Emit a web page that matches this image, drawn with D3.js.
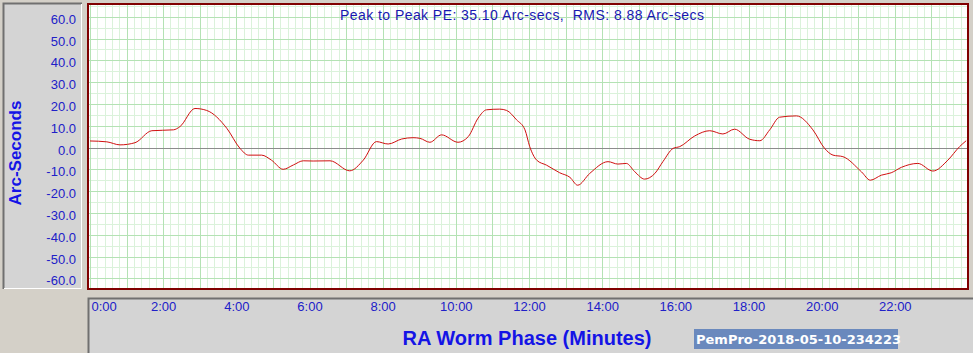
<!DOCTYPE html>
<html>
<head>
<meta charset="utf-8">
<script src="https://cdn.jsdelivr.net/npm/d3@7"></script>
<style>
    body { margin: 0; background: #d4d0c8; }
    svg { display: block; }
    .tickText { font-family: 'Liberation Sans', Arial, sans-serif; font-size: 13px; fill: #2020c8; }
    .axisTitle { font-family: 'Liberation Sans', Arial, sans-serif; font-weight: bold; fill: #1414e6; }
</style>
</head>
<body>
<svg id="pe"></svg>
<script>
// worm phase (minutes) and periodic error (arc-seconds)
const phaseMin = [0, 0.46, 0.82, 1.23, 1.69, 2.28, 2.46, 2.87, 3.19, 3.74, 4.10, 4.33, 4.69, 4.96, 5.28, 5.56,
    5.83, 6.10, 6.56, 7.10, 7.47, 7.83, 8.15, 8.52, 8.83, 9.02, 9.29, 9.61, 10.06, 10.34, 10.61, 10.84,
    11.20, 11.39, 11.66, 11.89, 12.02, 12.21, 12.48, 12.84, 13.12, 13.33, 13.66, 14.16, 14.43, 14.66, 14.89,
    15.16, 15.44, 15.66, 15.94, 16.12, 16.53, 16.94, 17.30, 17.62, 18.03, 18.31, 18.58, 18.85, 19.31, 19.76,
    20.08, 20.31, 20.58, 21.09, 21.33, 21.63, 21.90, 22.18, 22.63, 23.04, 23.45, 23.77, 23.95];
const peArcsec = [3.0, 2.6, 1.2, 2.2, 7.7, 8.1, 9.6, 17.9, 17.0, 8.8, -0.4, -3.5, -3.5, -5.8, -10.0, -8.0,
    -6.1, -6.2, -6.1, -10.7, -5.8, 2.7, 1.6, 3.9, 4.5, 4.2, 2.4, 5.8, 2.4, 5.0, 13.5, 17.3,
    17.6, 17.0, 12.7, 8.1, 0.4, -5.8, -8.1, -11.6, -13.7, -17.3, -11.9, -6.5, -7.6, -7.3, -11.1,
    -14.5, -11.9, -6.5, -0.4, 0.4, 5.3, 7.7, 6.2, 8.4, 3.8, 3.1, 8.1, 13.9, 14.5, 8.1,
    -0.4, -3.5, -4.2, -11.2, -15.0, -12.7, -11.6, -9.1, -7.3, -10.8, -5.8, 0.4, 3.1];

const yTickValues = [60, 50, 40, 30, 20, 10, 0, -10, -20, -30, -40, -50, -60];
const xTickValues = [0, 2, 4, 6, 8, 10, 12, 14, 16, 18, 20, 22];
const xTickLabels = ['0:00', '2:00', '4:00', '6:00', '8:00', '10:00', '12:00', '14:00', '16:00', '18:00', '20:00', '22:00'];

const statsText = 'Peak to Peak PE: 35.10 Arc-secs,  RMS: 8.88 Arc-secs';
const stampText = 'PemPro-2018-05-10-234223';

class PeChart {
    constructor(_config) {
        this.config = {
            parentElement: _config.parentElement,
            containerWidth: _config.containerWidth || 973,
            containerHeight: _config.containerHeight || 353,
            plot: { left: 88, top: 4, right: 968, bottom: 289 }
        };
        this.initVis();
    }

    initVis() {
        let vis = this;
        const p = vis.config.plot;

        vis.svg = d3.select(vis.config.parentElement)
            .attr('width', vis.config.containerWidth)
            .attr('height', vis.config.containerHeight);

        vis.xScale = d3.scaleLinear().domain([0, 24]).range([90, 968]);
        vis.yScale = d3.scaleLinear().domain([-60, 60]).range([278.3, 16.7]);

        // left panel (y labels)
        vis.bevel(3, 3, 79, 286);
        // bottom panel (x labels)
        vis.bevel(88, 298, 890, 60);

        vis.svg.append('clipPath').attr('id', 'plotClip')
            .append('rect')
            .attr('x', p.left).attr('y', p.top)
            .attr('width', p.right - p.left).attr('height', p.bottom - p.top);

        vis.svg.append('rect')
            .attr('x', p.left).attr('y', p.top)
            .attr('width', p.right - p.left).attr('height', p.bottom - p.top)
            .attr('fill', '#fff');

        vis.grid = vis.svg.append('g').attr('clip-path', 'url(#plotClip)');
        vis.lineG = vis.svg.append('g').attr('clip-path', 'url(#plotClip)');

        vis.svg.append('rect')
            .attr('x', p.left).attr('y', p.top)
            .attr('width', p.right - p.left).attr('height', p.bottom - p.top)
            .attr('fill', 'none')
            .attr('stroke', '#800000')
            .attr('stroke-width', 2);

        vis.svg.append('text')
            .attr('class', 'tickText')
            .attr('x', 340).attr('y', 20)
            .attr('textLength', 364)
            .attr('lengthAdjust', 'spacing')
            .style('white-space', 'pre')
            .style('font-size', '14px')
            .style('fill', '#1818b0')
            .text(statsText);

        vis.svg.append('text')
            .attr('class', 'axisTitle')
            .attr('transform', 'translate(21,153) rotate(-90)')
            .attr('text-anchor', 'middle')
            .style('font-size', '17px')
            .text('Arc-Seconds');

        vis.svg.append('text')
            .attr('class', 'axisTitle')
            .attr('x', 527).attr('y', 345)
            .attr('text-anchor', 'middle')
            .style('font-size', '20px')
            .text('RA Worm Phase (Minutes)');

        vis.svg.append('rect')
            .attr('x', 694).attr('y', 329)
            .attr('width', 204).attr('height', 20)
            .attr('fill', '#6a89bd');

        vis.svg.append('text')
            .attr('x', 696).attr('y', 344)
            .style('font-family', 'DejaVu Sans, Verdana, sans-serif')
            .style('font-weight', 'bold')
            .style('font-size', '13px')
            .attr('fill', '#fff')
            .text(stampText);

        vis.renderVis();
    }

    bevel(x, y, w, h) {
        let vis = this;
        vis.svg.append('rect')
            .attr('x', x).attr('y', y).attr('width', w).attr('height', h)
            .attr('fill', '#d4d4d4');
        vis.svg.append('path')
            .attr('d', `M${x + 0.5},${y + h} V${y + 0.5} H${x + w}`)
            .attr('fill', 'none').attr('stroke', '#707070').attr('stroke-width', 2);
        vis.svg.append('path')
            .attr('d', `M${x + 1},${y + h - 0.5} H${x + w - 0.5} V${y + 1}`)
            .attr('fill', 'none').attr('stroke', '#ffffff').attr('stroke-width', 1);
    }

    renderVis() {
        let vis = this;
        const p = vis.config.plot;

        // minor + major grid
        vis.grid.selectAll('.vMinor')
            .data(d3.range(0, 24.01, 0.2))
            .join('line')
            .attr('x1', d => Math.round(vis.xScale(d)) + 0.5)
            .attr('x2', d => Math.round(vis.xScale(d)) + 0.5)
            .attr('y1', p.top).attr('y2', p.bottom)
            .attr('stroke', '#dbf2db');
        vis.grid.selectAll('.hMinor')
            .data(d3.range(-65, 70, 5))
            .join('line')
            .attr('y1', d => Math.round(vis.yScale(d)) + 0.5)
            .attr('y2', d => Math.round(vis.yScale(d)) + 0.5)
            .attr('x1', p.left).attr('x2', p.right)
            .attr('stroke', '#dbf2db');
        vis.grid.selectAll('.vMajor')
            .data(d3.range(0, 25, 1))
            .join('line')
            .attr('x1', d => Math.round(vis.xScale(d)) + 0.5)
            .attr('x2', d => Math.round(vis.xScale(d)) + 0.5)
            .attr('y1', p.top).attr('y2', p.bottom)
            .attr('stroke', '#b4e2b4');
        vis.grid.selectAll('.hMajor')
            .data(yTickValues)
            .join('line')
            .attr('y1', d => Math.round(vis.yScale(d)) + 0.5)
            .attr('y2', d => Math.round(vis.yScale(d)) + 0.5)
            .attr('x1', p.left).attr('x2', p.right)
            .attr('stroke', d => d === 0 ? '#8c8c8c' : '#b4e2b4');

        const data = phaseMin.map((t, i) => ({ t: t, v: peArcsec[i] }));
        const line = d3.line()
            .x(d => vis.xScale(d.t))
            .y(d => vis.yScale(d.v))
            .curve(d3.curveMonotoneX);

        vis.lineG.append('path')
            .datum(data)
            .attr('d', line)
            .attr('fill', 'none')
            .attr('stroke', '#d01010')
            .attr('stroke-width', 1);

        // axes
        const yAxis = d3.axisLeft(vis.yScale)
            .tickValues(yTickValues)
            .tickSize(0)
            .tickPadding(0)
            .tickFormat(d => d.toFixed(1));
        const yAxisG = vis.svg.append('g')
            .attr('transform', 'translate(76,2.5)')
            .call(yAxis);
        yAxisG.select('.domain').remove();
        yAxisG.selectAll('text').attr('class', 'tickText').attr('fill', null);

        const xAxis = d3.axisBottom(vis.xScale)
            .tickValues(xTickValues)
            .tickSize(0)
            .tickPadding(0)
            .tickFormat((d, i) => xTickLabels[i]);
        const xAxisG = vis.svg.append('g')
            .attr('transform', 'translate(0,302)')
            .call(xAxis);
        xAxisG.select('.domain').remove();
        xAxisG.selectAll('text').attr('class', 'tickText').attr('fill', null);
        xAxisG.selectAll('text').filter(d => d === 0)
            .attr('text-anchor', 'start')
            .attr('x', 1);
    }
}

new PeChart({ parentElement: '#pe' });
</script>
</body>
</html>
